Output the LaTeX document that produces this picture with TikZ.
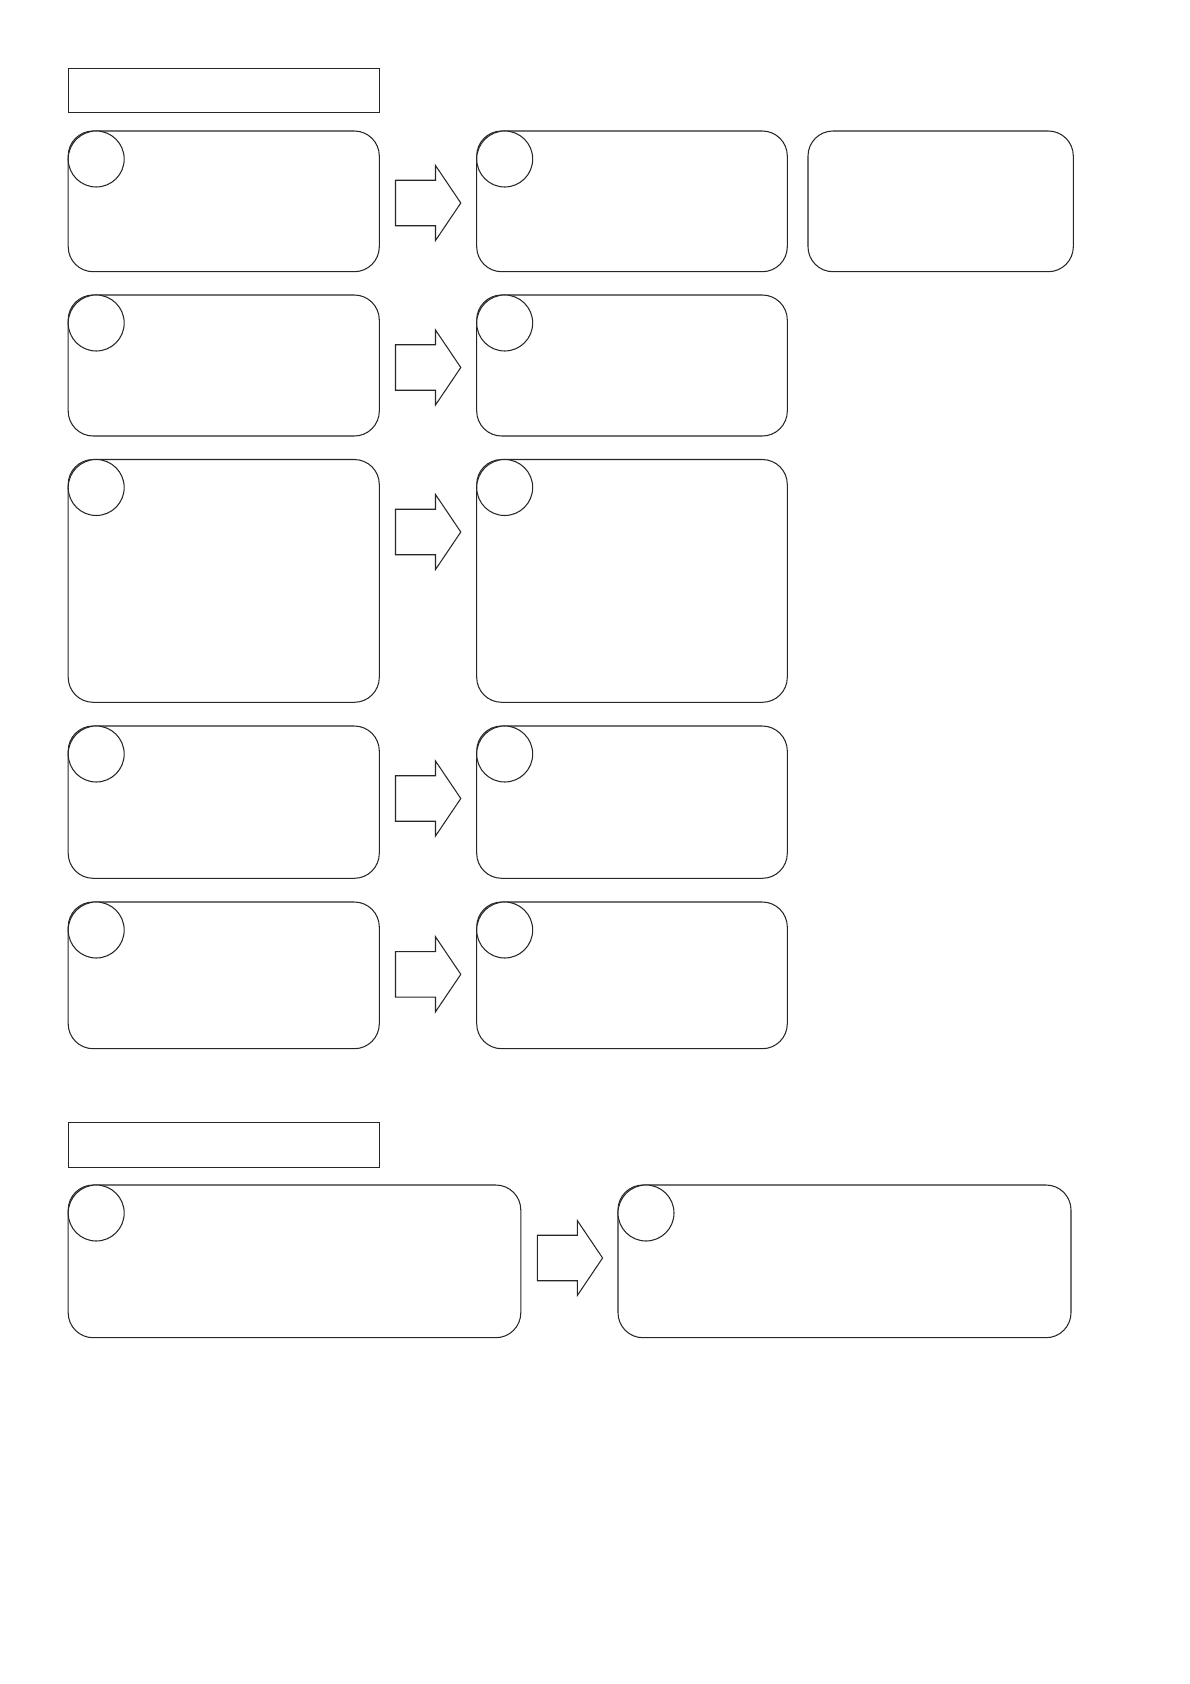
\documentclass[tikz,border=0pt]{standalone}
\usetikzlibrary{fit}
\newcommand{\blockarrow}[2]{%
  \draw[blk] (#1,#2-22.75) -- ++(40,0) -- ++(0,-14.75) -- (#1+65.3,#2)
    -- (#1+40,#2+37.5) -- ++(0,-14.75) -- (#1,#2+22.75) -- cycle;}
\begin{document}
\begin{tikzpicture}[x=0.02cm,y=-0.02cm,line width=0.6pt,
  box/.style={draw=black!85,rounded corners=0.5cm,inner sep=0pt,outer sep=0pt},
  hdr/.style={draw=black!85,inner sep=0pt,outer sep=0pt},
  circ/.style={draw=black!85,fill=white,circle,inner sep=0pt,minimum size=1.12cm},
  blk/.style={draw=black!85,fill=white,line join=miter}]
\useasboundingbox (0,0) rectangle (1190,1684);
% headers
\node[hdr,fit={(68.2,68.3) (379.3,112.7)}] (h1) {};
\node[hdr,fit={(68.2,1122.7) (379.3,1167.3)}] (h2) {};
% row 1
\node[box,fit={(68.2,131) (379.3,271.7)}] (a1) {};
\node[box,fit={(476.7,131) (787.3,271.7)}] (b1) {};
\node[box,fit={(808,131) (1073.3,271.7)}] (c1) {};
% row 2
\node[box,fit={(68.2,295) (379.3,436)}] (a2) {};
\node[box,fit={(476.7,295) (787.3,436)}] (b2) {};
% row 3
\node[box,fit={(68.2,459.5) (379.3,702.3)}] (a3) {};
\node[box,fit={(476.7,459.5) (787.3,702.3)}] (b3) {};
% row 4
\node[box,fit={(68.2,726) (379.3,878.3)}] (a4) {};
\node[box,fit={(476.7,726) (787.3,878.3)}] (b4) {};
% row 5
\node[box,fit={(68.2,902) (379.3,1048.7)}] (a5) {};
\node[box,fit={(476.7,902) (787.3,1048.7)}] (b5) {};
% bottom row
\node[box,fit={(68.2,1185) (520.8,1337.7)}] (a6) {};
\node[box,fit={(618,1185) (1071,1337.7)}] (b6) {};
% circles
\foreach \n in {a1,b1,a2,b2,a3,b3,a4,b4,a5,b5,a6,b6}
  \node[circ] (k\n) at ([shift={(28,28)}]\n.north west) {};
% block arrows
\blockarrow{395.5}{203}
\blockarrow{395.5}{367.5}
\blockarrow{395.5}{532}
\blockarrow{395.5}{798.5}
\blockarrow{395.5}{974.3}
\blockarrow{537.3}{1258}
\end{tikzpicture}
\end{document}
